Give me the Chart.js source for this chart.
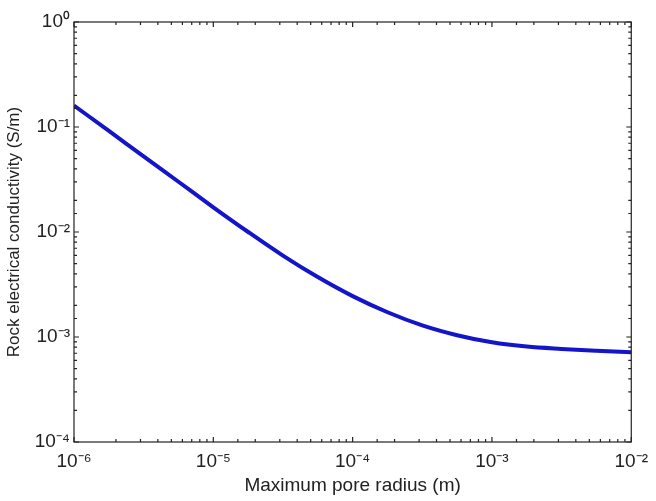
<!DOCTYPE html>
<html>
<head>
<meta charset="utf-8">
<script src="https://cdn.jsdelivr.net/npm/chart.js@4.4.0/dist/chart.umd.min.js"></script>
<style>
  html, body { margin: 0; padding: 0; background: #fff; }
  #wrap { width: 656px; height: 501px; }
</style>
</head>
<body>
<div id="wrap"><canvas id="chart_rock"></canvas></div>
<script>
// values (quarter decades of pore radius)
const poreRadius = [1e-6, 1.78e-6, 3.16e-6, 5.62e-6, 1e-5, 1.78e-5, 3.16e-5, 5.62e-5, 1e-4, 1.78e-4, 3.16e-4, 5.62e-4, 1e-3, 1.78e-3, 3.16e-3, 5.62e-3, 1e-2];
const conductivity = [0.160, 0.0918, 0.0525, 0.0301, 0.0172, 0.0100, 0.00596, 0.00372, 0.00245, 0.00172, 0.00129, 0.00104, 0.00089, 0.00081, 0.00077, 0.00074, 0.000715];
const xMajor = [1e-6, 1e-5, 1e-4, 1e-3, 1e-2];
const yMajor = [1e-4, 1e-3, 1e-2, 1e-1, 1];

const sup = { '-': '\u207B', '0': '\u2070', '1': '\u00B9', '2': '\u00B2', '3': '\u00B3', '4': '\u2074', '5': '\u2075', '6': '\u2076', '7': '\u2077', '8': '\u2078', '9': '\u2079' };
const powerLabel = (v) => {
    const e = String(Math.round(Math.log10(v)));
    return '10' + e.split('').map(c => sup[c]).join('');
};
const isMajor = (v, list) => list.some(m => Math.abs(v / m - 1) < 1e-6);

// MATLAB style frame with inward ticks
const frameTicks = {
    id: 'frameTicks',
    afterDraw(chart) {
        const { ctx, chartArea: a, scales } = chart;
        ctx.save();
        ctx.strokeStyle = '#222';
        ctx.lineWidth = 1.2;
        ctx.strokeRect(a.left, a.top, a.right - a.left, a.bottom - a.top);
        ctx.beginPath();
        scales.x.ticks.forEach(t => {
            const px = scales.x.getPixelForValue(t.value);
            const len = isMajor(t.value, xMajor) ? 5 : 3;
            ctx.moveTo(px, a.bottom); ctx.lineTo(px, a.bottom - len);
            ctx.moveTo(px, a.top); ctx.lineTo(px, a.top + len);
        });
        scales.y.ticks.forEach(t => {
            const py = scales.y.getPixelForValue(t.value);
            const len = isMajor(t.value, yMajor) ? 5 : 3;
            ctx.moveTo(a.left, py); ctx.lineTo(a.left + len, py);
            ctx.moveTo(a.right, py); ctx.lineTo(a.right - len, py);
        });
        ctx.stroke();
        ctx.restore();
    }
};

new Chart(document.getElementById('chart_rock'), {
    type: 'line',
    data: {
        datasets: [{
            data: poreRadius.map((r, i) => ({ x: r, y: conductivity[i] })),
            borderColor: 'rgb(20, 20, 200)',
            borderWidth: 4,
            pointRadius: 0,
            fill: false,
            cubicInterpolationMode: 'monotone'
        }]
    },
    options: {
        responsive: true,
        maintainAspectRatio: false,
        animation: false,
        layout: { padding: { top: 22, right: 19, left: 0, bottom: 0 } },
        plugins: { legend: { display: false }, tooltip: { enabled: false } },
        scales: {
            x: {
                type: 'logarithmic',
                min: 1e-6,
                max: 1e-2,
                grid: { display: false, drawTicks: false },
                border: { display: false },
                ticks: {
                    autoSkip: false,
                    maxRotation: 0,
                    padding: 8,
                    color: '#222',
                    font: { family: 'Liberation Sans', size: 19 },
                    callback: (v) => isMajor(v, xMajor) ? powerLabel(v) : ''
                },
                title: {
                    display: true,
                    text: 'Maximum pore radius (m)',
                    color: '#222',
                    font: { family: 'Liberation Sans', size: 19 },
                    padding: { top: 0, bottom: 4 }
                },
                afterFit: (s) => { s.height = 59; }
            },
            y: {
                type: 'logarithmic',
                min: 1e-4,
                max: 1,
                grid: { display: false, drawTicks: false },
                border: { display: false },
                ticks: {
                    autoSkip: false,
                    padding: 4,
                    color: '#222',
                    font: { family: 'Liberation Sans', size: 19 },
                    callback: (v) => isMajor(v, yMajor) ? powerLabel(v) : ''
                },
                title: {
                    display: true,
                    text: 'Rock electrical conductivity (S/m)',
                    color: '#222',
                    font: { family: 'Liberation Sans', size: 17 },
                    padding: { top: 4, bottom: 0 }
                },
                afterFit: (s) => { s.width = 74; }
            }
        }
    },
    plugins: [frameTicks]
});
</script>
</body>
</html>
